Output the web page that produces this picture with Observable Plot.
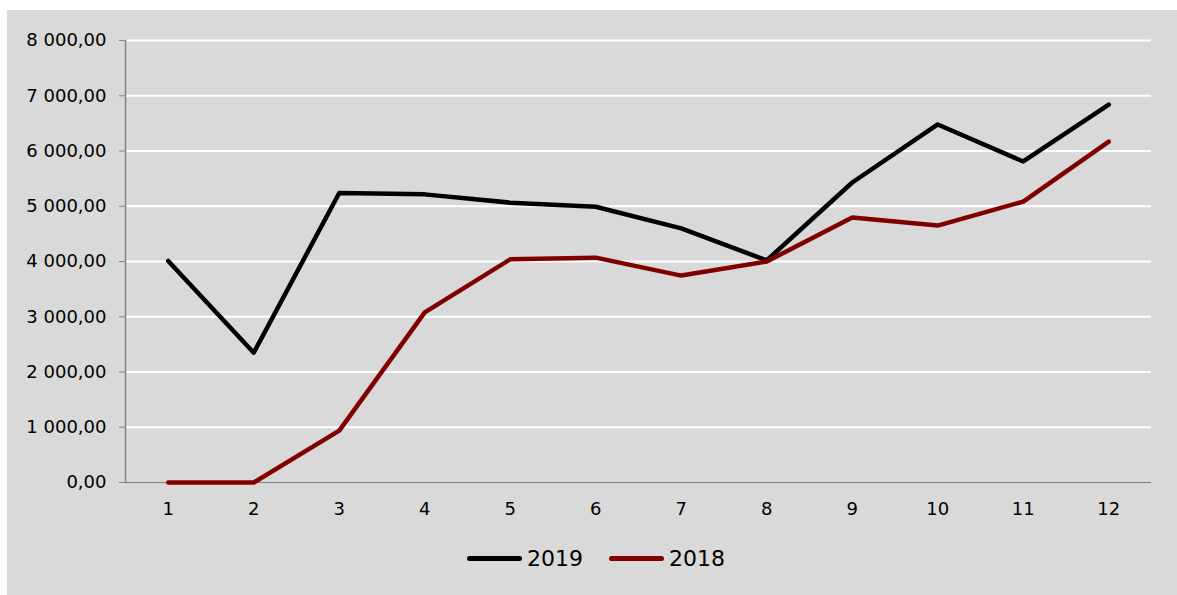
<!DOCTYPE html>
<html>
<head>
<meta charset="utf-8">
<script src="https://cdn.jsdelivr.net/npm/d3@7"></script>
<script src="https://cdn.jsdelivr.net/npm/@observablehq/plot@0.6"></script>
<style>
  html, body { margin: 0; padding: 0; background: #ffffff; }
  #wrap {
    position: absolute; left: 7px; top: 10px; width: 1170px; height: 585px;
    background: #d9d9d9; font-family: "DejaVu Sans", sans-serif;
  }
  #legend {
    display: flex; justify-content: center; align-items: center; gap: 26px;
    font-size: 22px; color: #000; margin-top: 6px; padding-left: 8px;
  }
  .item { display: flex; align-items: center; gap: 5px; }
  .swatch { width: 55px; height: 5px; border-radius: 3px; }
</style>
</head>
<body>
<div id="wrap">
  <div id="chart"></div>
  <div id="legend"></div>
</div>
<script>
const months = [1, 2, 3, 4, 5, 6, 7, 8, 9, 10, 11, 12];
const values2019 = [4010, 2350, 5240, 5215, 5065, 4990, 4600, 4020, 5430, 6480, 5810, 6840];
const values2018 = [0, 0, 940, 3080, 4040, 4070, 3745, 4000, 4795, 4650, 5085, 6170];
const seriesNames = ["2019", "2018"];
const seriesColors = ["#000000", "#800000"];
const yTicks = [0, 1000, 2000, 3000, 4000, 5000, 6000, 7000, 8000];

const rows = [];
months.forEach((m, i) => {
  rows.push({month: m, value: values2019[i], series: "2019"});
  rows.push({month: m, value: values2018[i], series: "2018"});
});

const locale = d3.formatLocale({decimal: ",", thousands: " ", grouping: [3], currency: ["", ""]});
const fmt = locale.format(",.2f");

const chart = Plot.plot({
  width: 1170,
  height: 530,
  marginLeft: 118,
  marginRight: 26,
  marginTop: 30,
  marginBottom: 58,
  style: {background: "transparent", fontFamily: "DejaVu Sans, sans-serif", fontSize: "18px", color: "#000"},
  x: {type: "point", domain: months, padding: 0.5, round: false},
  y: {domain: [0, 8000]},
  color: {domain: seriesNames, range: seriesColors},
  marks: [
    Plot.gridY(yTicks, {stroke: "#ffffff", strokeOpacity: 1, strokeWidth: 2}),
    Plot.ruleY([0], {stroke: "#868686", strokeWidth: 1.5}),
    Plot.frame({anchor: "left", stroke: "#868686", strokeWidth: 1.5}),
    Plot.axisY(yTicks, {tickFormat: fmt, tickSize: 6, tickPadding: 13, stroke: "#868686", fill: "#000", label: null}),
    Plot.axisX(months, {tickSize: 0, tickPadding: 20, fill: "#000", label: null}),
    Plot.line(rows, {x: "month", y: "value", z: "series", stroke: "series", strokeWidth: 4.5, strokeLinecap: "round", strokeLinejoin: "round"})
  ]
});
document.getElementById("chart").appendChild(chart);

const legend = document.getElementById("legend");
seriesNames.forEach((name, i) => {
  const item = document.createElement("div");
  item.className = "item";
  const sw = document.createElement("div");
  sw.className = "swatch";
  sw.style.background = seriesColors[i];
  const label = document.createElement("span");
  label.textContent = name;
  item.appendChild(sw);
  item.appendChild(label);
  legend.appendChild(item);
});
</script>
</body>
</html>
